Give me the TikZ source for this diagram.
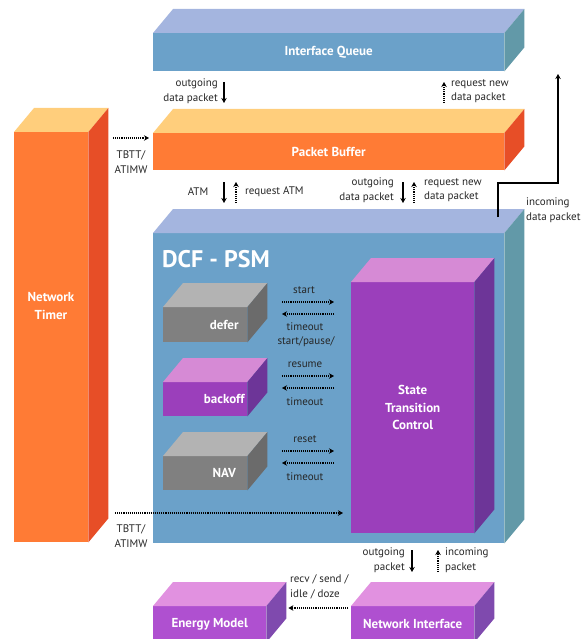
\documentclass[tikz,border=0pt]{standalone}
\usepackage{fontspec}
\setmainfont{PT Sans}
\usetikzlibrary{arrows.meta,calc}
\definecolor{qfront}{HTML}{6BA1C9}
\definecolor{qtop}{HTML}{A4B5DF}
\definecolor{qside}{HTML}{6299A8}
\definecolor{ofront}{HTML}{FF7B35}
\definecolor{otop}{HTML}{FFCE7C}
\definecolor{oside}{HTML}{E74E27}
\definecolor{gfront}{HTML}{808080}
\definecolor{gtop}{HTML}{B3B3B3}
\definecolor{gside}{HTML}{6B6B6B}
\definecolor{pfront}{HTML}{9B3FBB}
\definecolor{ptop}{HTML}{D68AD5}
\definecolor{pside}{HTML}{6D3598}
\definecolor{lfront}{HTML}{AF50D0}
\definecolor{ltop}{HTML}{E191E0}
\definecolor{lside}{HTML}{7F4AAE}
\newcommand\cubefaces[3]{%
  \fill[#2] (#1.north west) -- ++(20,-24) -- ($(#1.north east)+(20,-24)$) -- (#1.north east) -- cycle;
  \fill[#3] (#1.north east) -- ++(20,-24) -- ($(#1.south east)+(20,-24)$) -- (#1.south east) -- cycle;
}
\newcommand\titlefont{\fontsize{13}{17.5}\selectfont\bfseries}
\tikzset{
  front/.style={anchor=north west, inner sep=0pt, draw=none, text=white, font=\titlefont, align=center},
  lbl/.style={inner sep=0pt, font=\fontsize{11}{14.5}\selectfont, text=black!85},
  solidarrow/.style={line width=1.4pt, -{Stealth[length=5pt,width=5.5pt]}},
  dotarrow/.style={line width=1.8pt, dash pattern=on 1.1pt off 1pt, -{Stealth[length=5pt,width=5.5pt]}},
}
\begin{document}
\begin{tikzpicture}[x=1pt,y=-1pt]
\useasboundingbox (0,0) rectangle (583,639);
% Interface Queue
\node[front, fill=qfront, minimum width=351pt, minimum height=38pt] (iq) at (153,33) {Interface Queue};
\cubefaces{iq}{qtop}{qside}
% Packet Buffer
\node[front, fill=ofront, minimum width=351pt, minimum height=37pt] (pb) at (153,133) {Packet Buffer};
\cubefaces{pb}{otop}{oside}
% Network Timer
\node[front, fill=ofront, minimum width=74pt, minimum height=410pt] (nt) at (14,132) {};
\cubefaces{nt}{otop}{oside}
\node[inner sep=0pt, text=white, font=\titlefont, align=center] (ntt) at (51,306) {Network\\Timer};
% DCF-PSM
\node[front, fill=qfront, minimum width=351pt, minimum height=310pt] (dcf) at (153,233) {};
\cubefaces{dcf}{qtop}{qside}
\node[anchor=west, inner sep=0pt, text=white, font=\fontsize{24}{26}\selectfont\bfseries] (dcft) at (162,259) {DCF - PSM};
% inner boxes
\node[front, fill=gfront, minimum width=84pt, minimum height=35pt, label={[text=white,font=\titlefont,xshift=19pt]center:defer}] (defer) at (163,307) {};
\cubefaces{defer}{gtop}{gside}
\node[front, fill=pfront, minimum width=84pt, minimum height=34pt, label={[text=white,font=\titlefont,xshift=19pt]center:backoff}] (backoff) at (163,382) {};
\cubefaces{backoff}{ptop}{pside}
\node[front, fill=gfront, minimum width=84pt, minimum height=34pt, label={[text=white,font=\titlefont,xshift=19pt]center:NAV}] (nav) at (163,456) {};
\cubefaces{nav}{gtop}{gside}
% State Transition Control
\node[front, fill=pfront, minimum width=123pt, minimum height=251pt] (stc) at (351,282) {State\\Transition\\Control};
\cubefaces{stc}{ptop}{pside}
% Energy Model, Network Interface
\node[front, fill=lfront, minimum width=113pt, minimum height=36pt] (em) at (153,606) {Energy Model};
\cubefaces{em}{ltop}{lside}
\node[front, fill=lfront, minimum width=123pt, minimum height=36pt] (ni) at (351,606) {Network Interface};
\cubefaces{ni}{ltop}{lside}

% coordinates for connectors
\coordinate (a1s) at (224,82);  \coordinate (a1e) at (224,103);
\coordinate (a2s) at (444,103); \coordinate (a2e) at (444,82);
\coordinate (a3s) at (113,138); \coordinate (a3e) at (pb.west |- a3s);
\coordinate (a4s) at (224,182); \coordinate (a4e) at (224,203);
\coordinate (a5s) at (236,203); \coordinate (a5e) at (236,182);
\coordinate (a6s) at (403,182); \coordinate (a6e) at (403,203);
\coordinate (a7s) at (414,203); \coordinate (a7e) at (414,182);
\coordinate (in0) at (498,217); \coordinate (in1) at (498,183); \coordinate (in2) at (558,183); \coordinate (in3) at (558,74);
\coordinate (tb0) at (115,513); \coordinate (tb1) at (stc.west |- tb0);
\coordinate (o1s) at (412,550); \coordinate (o1e) at (412,572);
\coordinate (o2s) at (438,572); \coordinate (o2e) at (438,550);
\coordinate (ems) at (348,608); \coordinate (eme) at (em.east |- ems);

\draw[solidarrow] (a1s) -- (a1e);
\draw[dotarrow] (a2s) -- (a2e);
\draw[dotarrow] (a3s) -- ($(a3e)+(-4,0)$);
\draw[solidarrow] (a4s) -- (a4e);
\draw[dotarrow] (a5s) -- (a5e);
\draw[solidarrow] (a6s) -- (a6e);
\draw[dotarrow] (a7s) -- (a7e);
\draw[line width=1.4pt, -{Stealth[length=5pt,width=5.5pt]}] (in0) -- (in1) -- (in2) -- (in3);
\foreach \yy/\nm in {302/s,376/r,451/n}{
  \coordinate (\nm r0) at (282,\yy); \coordinate (\nm r1) at (334,\yy);
  \coordinate (\nm l0) at (334,\yy+12); \coordinate (\nm l1) at (282,\yy+12);
  \draw[dotarrow] (\nm r0) -- (\nm r1);
  \draw[dotarrow] (\nm l0) -- (\nm l1);
}
\draw[dotarrow] (tb0) -- ($(tb1)+(-8,0)$);
\draw[solidarrow] (o1s) -- (o1e);
\draw[dotarrow] (o2s) -- (o2e);
\draw[dotarrow] (ems) -- ($(eme)+(22,0)$);

% labels
\node[lbl, anchor=east, align=right] (l1) at (218,91) {outgoing\\data packet};
\node[lbl, anchor=west, align=left] (l2) at (451,91) {request new\\data packet};
\node[lbl, align=center] (l3) at (131,162) {TBTT/\\ATIMW};
\node[lbl] (l4) at (198,192) {ATM};
\node[lbl, anchor=west] (l5) at (245,192) {request ATM};
\node[lbl, anchor=east, align=right] (l6) at (394,190) {outgoing\\data packet};
\node[lbl, anchor=west, align=left] (l7) at (424,190) {request new\\data packet};
\node[lbl, anchor=west, align=left] (l8) at (526,210) {incoming\\data packet};
\node[lbl] (l9) at (304,290) {start};
\node[lbl] (l10) at (305,327) {timeout};
\node[lbl] (l11) at (306,342) {start/pause/};
\node[lbl] (l12) at (305,365) {resume};
\node[lbl] (l13) at (305,402) {timeout};
\node[lbl] (l14) at (305,439) {reset};
\node[lbl] (l15) at (305,477) {timeout};
\node[lbl, align=center] (l16) at (131,536) {TBTT/\\ATIMW};
\node[lbl, anchor=east, align=right] (l17) at (405,560) {outgoing\\packet};
\node[lbl, anchor=west, align=left] (l18) at (445,560) {incoming\\packet};
\node[lbl, anchor=west, align=left] (l19) at (290,587) {recv / send /\\idle / doze};
\end{tikzpicture}
\end{document}
